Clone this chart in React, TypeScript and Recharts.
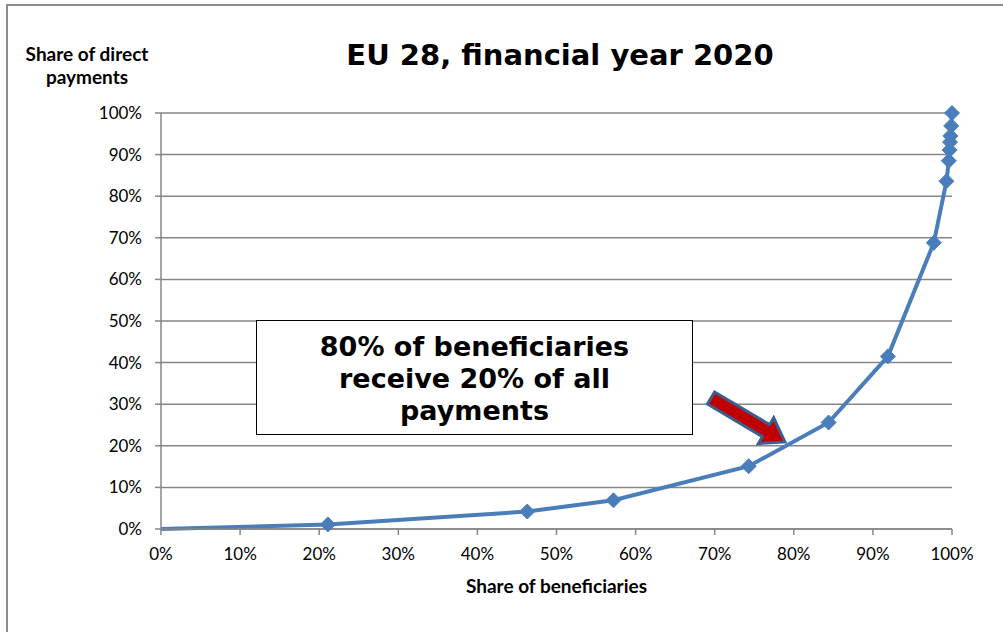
import React from "react";
import { CartesianGrid, Line, LineChart, XAxis, YAxis } from "recharts";

// cumulative share of beneficiaries (x) vs cumulative share of direct payments (y)
const beneficiaryShare = [0, 0.211, 0.463, 0.572, 0.743, 0.844, 0.919, 0.977, 0.993, 0.996, 0.997, 0.9975, 0.998, 0.999, 1];
const paymentShare = [0, 0.011, 0.042, 0.069, 0.151, 0.256, 0.415, 0.688, 0.836, 0.885, 0.911, 0.93, 0.945, 0.969, 1];
const percentTicks = [0, 0.1, 0.2, 0.3, 0.4, 0.5, 0.6, 0.7, 0.8, 0.9, 1];

const title = "EU 28, financial year 2020";
const yLabel = ["Share of direct", "payments"];
const xLabel = "Share of beneficiaries";
const note = ["80% of beneficiaries", "receive 20% of all", "payments"];

const data = beneficiaryShare.map((x, i) => ({ x, y: paymentShare[i] }));

const BLUE = "#4a7ebb";
const GRID = "#868686";
const tickFont = { fontSize: 17, fill: "#000", fontFamily: "Lato, 'Open Sans', sans-serif" };
const pct = (v: number) => `${Math.round(v * 100)}%`;

function Diamond(props: any) {
  const { cx, cy, index } = props;
  if (index === 0 || cx == null) return <g key={`d${index}`} />;
  const r = 7.5;
  return (
    <path
      key={`d${index}`}
      d={`M${cx},${cy - r}L${cx + r},${cy}L${cx},${cy + r}L${cx - r},${cy}Z`}
      fill={BLUE}
      stroke={BLUE}
      strokeWidth={1}
    />
  );
}

export default function App() {
  const L = 86;
  return (
    <div
      style={{
        position: "fixed",
        left: 0,
        top: 0,
        width: 1003,
        height: 632,
        background: "#fff",
        overflow: "hidden",
        fontFamily: "Lato, 'Open Sans', sans-serif",
      }}
    >
      <div
        style={{
          position: "absolute",
          left: 6,
          top: 4,
          width: 1020,
          height: 650,
          border: "2px solid #8c8c8c",
        }}
      />
      <LineChart
        width={1003}
        height={632}
        data={data}
        margin={{ top: 113, right: 51, bottom: 73, left: 0 }}
        style={{ position: "absolute", left: 0, top: 0 }}
      >
        <CartesianGrid vertical={false} stroke={GRID} strokeWidth={1.5} />
        <XAxis
          type="number"
          dataKey="x"
          domain={[0, 1]}
          ticks={percentTicks}
          tickFormatter={pct}
          tick={tickFont}
          tickSize={6}
          tickMargin={13}
          stroke={GRID}
          strokeWidth={1.5}
          interval={0}
        />
        <YAxis
          type="number"
          dataKey="y"
          domain={[0, 1]}
          ticks={percentTicks}
          tickFormatter={pct}
          tick={tickFont}
          tickSize={6}
          tickMargin={13}
          stroke={GRID}
          strokeWidth={1.5}
          width={161}
          interval={0}
        />
        <Line
          type="linear"
          dataKey="y"
          stroke={BLUE}
          strokeWidth={4}
          dot={Diamond}
          activeDot={false}
          isAnimationActive={false}
        />
      </LineChart>

      <div
        style={{
          position: "absolute",
          left: 0,
          width: 1120,
          top: 38,
          textAlign: "center",
          fontFamily: "'DejaVu Sans', Verdana, sans-serif",
          fontWeight: "bold",
          fontSize: 29,
        }}
      >
        {title}
      </div>
      <div
        style={{
          position: "absolute",
          left: 7,
          width: 160,
          top: 42,
          textAlign: "center",
          fontWeight: "bold",
          fontSize: 19,
          lineHeight: "23px",
        }}
      >
        {yLabel.map((t) => (
          <div key={t}>{t}</div>
        ))}
      </div>
      <div
        style={{
          position: "absolute",
          left: 161,
          width: 791,
          top: 574,
          textAlign: "center",
          fontWeight: "bold",
          fontSize: 19,
        }}
      >
        {xLabel}
      </div>

      <div
        style={{
          position: "absolute",
          left: 256,
          top: 320,
          width: 437,
          height: 115,
          border: "1px solid #000",
          background: "#fff",
          display: "flex",
          flexDirection: "column",
          justifyContent: "center",
          alignItems: "center",
          fontFamily: "'DejaVu Sans', Verdana, sans-serif",
          fontWeight: "bold",
          fontSize: 27,
          lineHeight: "32px",
          paddingTop: 2,
          boxSizing: "border-box",
        }}
      >
        {note.map((t) => (
          <div key={t}>{t}</div>
        ))}
      </div>

      <svg width={1003} height={632} style={{ position: "absolute", left: 0, top: 0, pointerEvents: "none" }}>
        <g transform="translate(711,398) rotate(30.7)">
          <polygon
            points={`0,-7 ${L - 22},-7 ${L - 22},-15 ${L},0 ${L - 22},15 ${L - 22},7 0,7`}
            fill="#c00000"
            stroke="#3d5f8f"
            strokeWidth={3}
            strokeLinejoin="miter"
          />
        </g>
      </svg>
    </div>
  );
}
